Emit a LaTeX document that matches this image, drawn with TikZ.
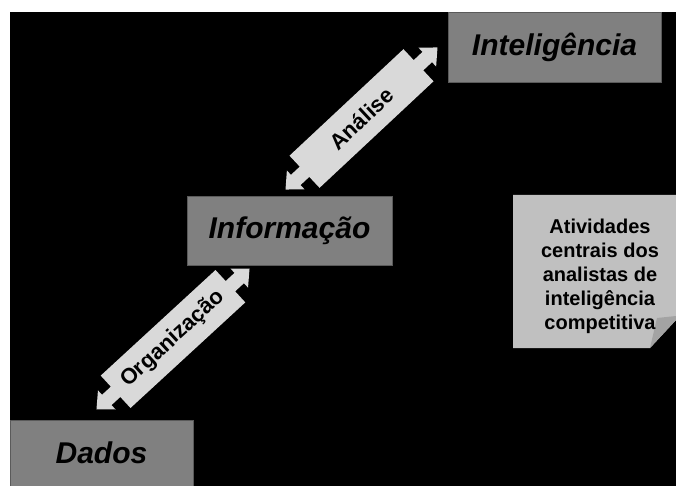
\documentclass[tikz,border=0pt]{standalone}
\usepackage{fontspec}
\setmainfont{Liberation Sans}
\usetikzlibrary{calc}
\definecolor{boxgray}{HTML}{808080}
\definecolor{boxedge}{HTML}{5A5A5A}
\definecolor{arrowgray}{HTML}{D9D9D9}
\definecolor{notegray}{HTML}{C0C0C0}
\definecolor{flapgray}{HTML}{A3A3A3}
\begin{document}
\begin{tikzpicture}[x=1pt,y=-1pt,
  box/.style={draw=boxedge, line width=0.8pt, fill=boxgray, inner sep=0pt,
    font=\fontsize{30}{34}\selectfont\bfseries\itshape},
  arrowlabel/.style={transform shape, font=\fontsize{22}{26}\selectfont\bfseries, inner sep=0pt},
  notetext/.style={align=center, inner sep=0pt, font=\fontsize{20}{24}\selectfont\bfseries},
  dblarrow/.pic={
    \fill[arrowgray] (-104,0) -- (-90,-13) -- (-90,-7) -- (-78,-7) -- (-78,-22) -- (78,-22)
      -- (78,-7) -- (90,-7) -- (90,-13) -- (104,0) -- (90,13) -- (90,7) -- (78,7)
      -- (78,22) -- (-78,22) -- (-78,7) -- (-90,7) -- (-90,13) -- cycle;
    \node[arrowlabel] {#1};
  }]
\useasboundingbox (0,0) rectangle (676,486);
\fill[black] (10,12) rectangle (676,486);

% boxes
\node[box, minimum width=213pt, minimum height=70pt] (intel) at (554.5,47) {Inteligência};
\node[box, minimum width=205pt, minimum height=69pt] (info) at (289.5,230.5) {Informação};
\node[box, minimum width=183pt, minimum height=66pt] (dados) at (101.5,453) {Dados};

% arrow end points
\coordinate (a1) at (285,190);
\coordinate (a2) at (438,47);
\coordinate (o1) at (98,408);
\coordinate (o2) at (248,270);

\path let \p1=($(a2)-(a1)$), \n1={atan2(\y1,\x1)} in
  pic[rotate=\n1] at ($(a1)!0.5!(a2)$) {dblarrow=Análise};
\path let \p1=($(o2)-(o1)$), \n1={atan2(\y1,\x1)} in
  pic[rotate=\n1] at ($(o1)!0.5!(o2)$) {dblarrow=Organização};

% note
\fill[notegray] (513,195) -- (676,195) -- (676,320) -- (650,348) -- (513,348) -- cycle;
\fill[flapgray] (650,348) -- (657,318) -- (676,316) -- (676,320) -- cycle;
\node[notetext] (note) at (600,276) {Atividades\\centrais dos\\analistas de\\inteligência\\competitiva};
\end{tikzpicture}
\end{document}
